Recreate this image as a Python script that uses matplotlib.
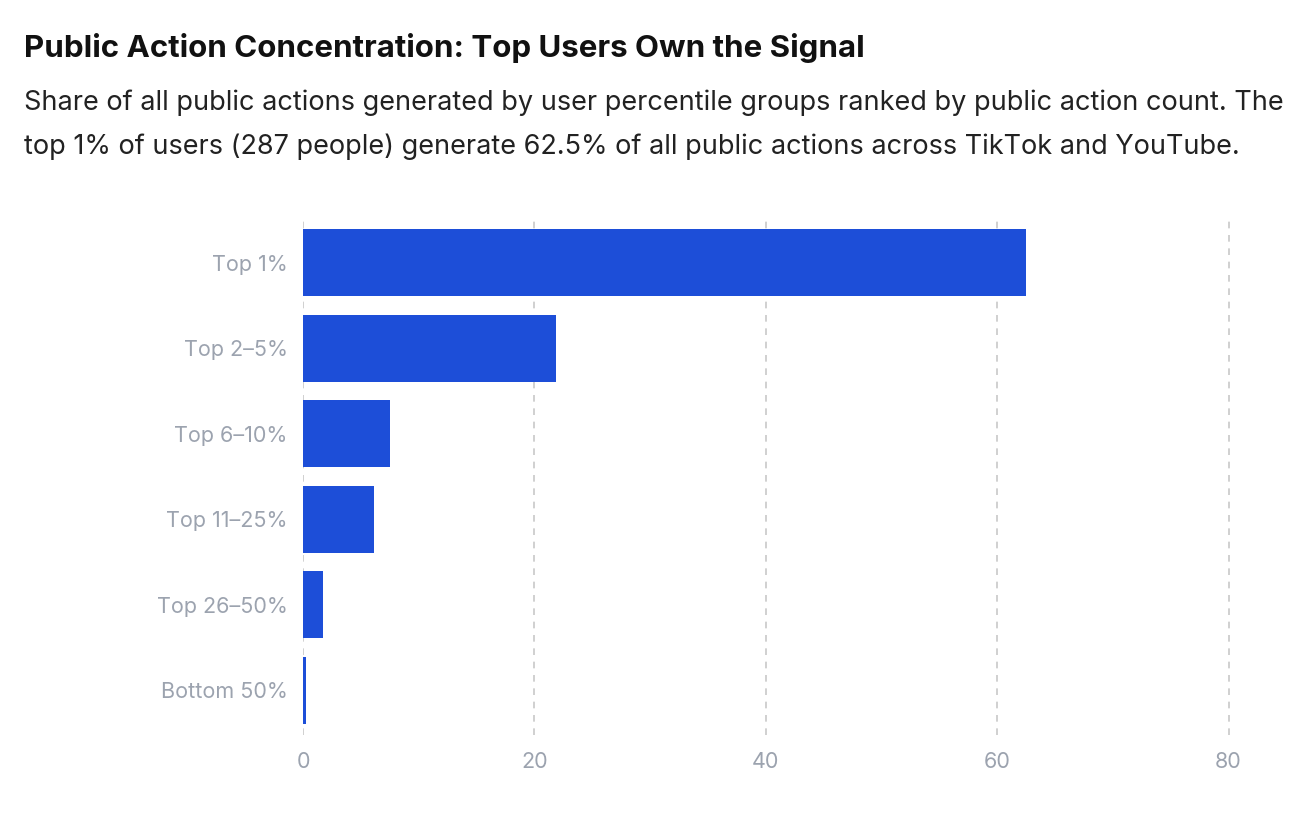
import matplotlib.pyplot as plt

plt.rcParams['font.family'] = ['Inter', 'DejaVu Sans']

groups = ["Top 1%", "Top 2–5%", "Top 6–10%", "Top 11–25%", "Top 26–50%", "Bottom 50%"]
shares = [62.5, 21.9, 7.5, 6.1, 1.7, 0.3]
xticks = [0, 20, 40, 60, 80]

fig = plt.figure(figsize=(13.14, 8.36), dpi=100)
ax = fig.add_axes([0.2306, 0.121, 0.707, 0.618])

y = list(range(len(groups)))
ax.barh(y, shares, height=0.78, color="#1d4ed8", zorder=3)
ax.set_yticks(y)
ax.set_yticklabels(groups)
ax.set_ylim(len(groups) - 0.48, -0.52)
ax.set_xlim(0, 80.3)
ax.set_xticks(xticks)
ax.tick_params(axis="both", length=0, colors="#9ca3af", labelsize=15.5, pad=12)
ax.tick_params(axis="y", pad=11)
ax.xaxis.grid(True, linestyle=(0, (4, 4)), color="#c8c8c8", linewidth=1.2, zorder=0)
for s in ax.spines.values():
    s.set_visible(False)

fig.text(0.018, 0.943, "Public Action Concentration: Top Users Own the Signal",
         fontsize=22.5, fontweight="bold", color="#111111", va="center")
fig.text(0.018, 0.877, "Share of all public actions generated by user percentile groups ranked by public action count. The",
         fontsize=19.5, color="#222222", va="center")
fig.text(0.018, 0.825, "top 1% of users (287 people) generate 62.5% of all public actions across TikTok and YouTube.",
         fontsize=19.5, color="#222222", va="center")

fig.savefig("out.png", dpi=100)
